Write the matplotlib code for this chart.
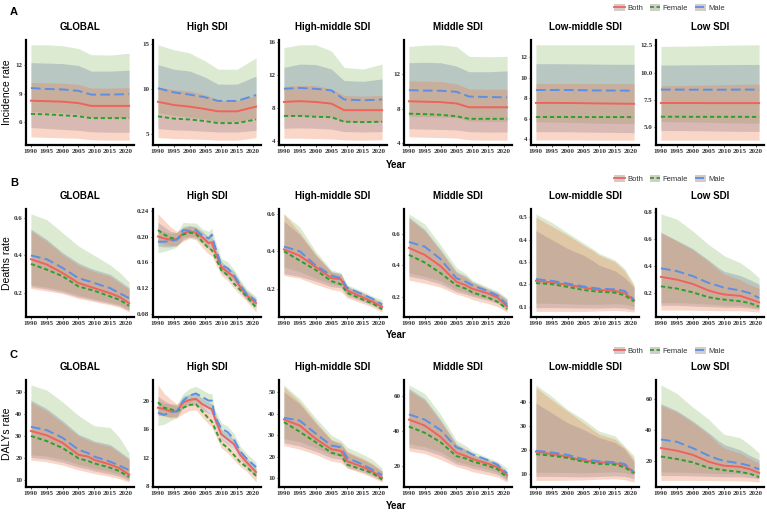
import matplotlib
matplotlib.use("Agg")
import matplotlib.pyplot as plt
from matplotlib.lines import Line2D
from matplotlib.patches import Patch

# ---- data: each sex -> (mean, lower, upper) ----
regions = ["GLOBAL", "High SDI", "High-middle SDI", "Middle SDI", "Low-middle SDI", "Low SDI"]
sexes = ["Both", "Female", "Male"]

years_a = [1990, 1995, 2000, 2005, 2009, 2015, 2021]
years_b = [1990, 1995, 2000, 2005, 2008, 2010, 2015, 2018, 2021]
years_hi = [1990, 1992, 1994, 1996, 1998, 2000, 2002, 2004, 2006, 2007, 2008, 2010, 2012, 2014, 2016, 2018, 2021]

# A: incidence
inc_global = {
    "Both": ([8.25, 8.2, 8.15, 8.0, 7.7, 7.7, 7.7], [5.4, 5.3, 5.2, 5.1, 4.95, 4.9, 4.9], [12.3, 12.25, 12.2, 12.0, 11.4, 11.4, 11.5]),
    "Female": ([6.85, 6.8, 6.7, 6.6, 6.4, 6.4, 6.4], [4.4, 4.35, 4.3, 4.25, 4.1, 4.05, 4.05], [10.2, 10.15, 10.1, 10.0, 9.6, 9.6, 9.65]),
    "Male": ([9.6, 9.5, 9.45, 9.3, 8.9, 8.9, 8.95], [7.1, 7.0, 6.95, 6.8, 6.5, 6.45, 6.45], [14.2, 14.2, 14.1, 13.8, 13.15, 13.1, 13.3]),
}
inc_high = {
    "Both": ([8.6, 8.25, 8.07, 7.8, 7.55, 7.55, 8.07], [5.65, 5.5, 5.45, 5.35, 5.27, 5.27, 5.45], [12.7, 12.2, 12.0, 11.3, 10.55, 10.55, 11.45]),
    "Female": ([7.0, 6.75, 6.65, 6.47, 6.25, 6.25, 6.65], [4.65, 4.55, 4.5, 4.45, 4.36, 4.36, 4.65], [10.25, 9.95, 9.8, 9.4, 8.75, 8.75, 9.3]),
    "Male": ([10.1, 9.65, 9.4, 9.1, 8.7, 8.7, 9.35], [7.4, 7.1, 6.9, 6.7, 6.4, 6.4, 6.85], [14.9, 14.35, 14.0, 13.1, 12.2, 12.2, 13.45]),
}
inc_highmid = {
    "Both": ([8.7, 8.8, 8.7, 8.5, 7.7, 7.7, 7.7], [5.5, 5.55, 5.5, 5.4, 5.1, 5.05, 5.1], [12.9, 13.3, 13.25, 12.7, 11.3, 11.2, 11.5]),
    "Female": ([7.0, 7.0, 6.9, 6.85, 6.3, 6.25, 6.3], [4.3, 4.3, 4.25, 4.2, 4.1, 4.05, 4.1], [10.6, 10.7, 10.7, 10.3, 9.5, 9.4, 9.5]),
    "Male": ([10.3, 10.4, 10.3, 10.1, 9.0, 8.9, 9.0], [7.0, 7.05, 7.0, 6.9, 6.3, 6.25, 6.3], [15.3, 15.65, 15.65, 14.9, 12.9, 12.7, 13.3]),
}
inc_mid = {
    "Both": ([8.85, 8.8, 8.75, 8.6, 8.15, 8.15, 8.15], [5.65, 5.6, 5.55, 5.5, 5.3, 5.25, 5.27], [13.35, 13.4, 13.35, 12.96, 12.3, 12.3, 12.4]),
    "Female": ([7.4, 7.35, 7.27, 7.1, 6.8, 6.8, 6.8], [4.7, 4.65, 4.6, 4.55, 4.35, 4.3, 4.3], [11.25, 11.2, 11.15, 10.9, 10.3, 10.25, 10.27]),
    "Male": ([10.15, 10.1, 10.08, 9.96, 9.4, 9.35, 9.3], [7.1, 7.05, 7.0, 6.95, 6.55, 6.5, 6.5], [15.25, 15.4, 15.45, 15.25, 14.1, 14.05, 14.1]),
}
inc_lowmid = {
    "Both": ([7.55, 7.55, 7.54, 7.52, 7.5, 7.48, 7.46], [4.75, 4.75, 4.74, 4.72, 4.7, 4.68, 4.65], [11.36, 11.36, 11.35, 11.34, 11.32, 11.3, 11.3]),
    "Female": ([6.18, 6.18, 6.18, 6.17, 6.17, 6.17, 6.17], [3.95, 3.95, 3.95, 3.94, 3.93, 3.92, 3.92], [9.44, 9.44, 9.44, 9.43, 9.42, 9.42, 9.42]),
    "Male": ([8.8, 8.8, 8.8, 8.78, 8.76, 8.75, 8.74], [5.7, 5.68, 5.66, 5.62, 5.58, 5.56, 5.55], [13.2, 13.2, 13.2, 13.2, 13.2, 13.2, 13.2]),
}
inc_low = {
    "Both": ([7.23, 7.23, 7.23, 7.22, 7.22, 7.22, 7.22], [4.73, 4.72, 4.71, 4.69, 4.67, 4.65, 4.64], [10.68, 10.69, 10.7, 10.71, 10.72, 10.73, 10.74]),
    "Female": ([5.98, 5.98, 5.97, 5.97, 5.97, 5.97, 5.96], [3.84, 3.84, 3.84, 3.84, 3.84, 3.84, 3.84], [8.8, 8.82, 8.84, 8.87, 8.9, 8.93, 8.96]),
    "Male": ([8.45, 8.45, 8.44, 8.44, 8.44, 8.45, 8.45], [5.54, 5.52, 5.5, 5.47, 5.44, 5.41, 5.39], [12.38, 12.4, 12.42, 12.45, 12.48, 12.51, 12.53]),
}

# B: deaths
death_global = {
    "Both": ([0.38, 0.352, 0.307, 0.254, 0.238, 0.227, 0.2, 0.18, 0.147], [0.235, 0.222, 0.205, 0.18, 0.17, 0.162, 0.145, 0.132, 0.108], [0.54, 0.485, 0.415, 0.36, 0.338, 0.325, 0.3, 0.265, 0.23]),
    "Female": ([0.355, 0.325, 0.29, 0.236, 0.222, 0.213, 0.183, 0.165, 0.133], [0.225, 0.212, 0.198, 0.172, 0.162, 0.155, 0.138, 0.125, 0.1], [0.53, 0.475, 0.405, 0.35, 0.328, 0.315, 0.29, 0.255, 0.22]),
    "Male": ([0.4, 0.38, 0.334, 0.28, 0.265, 0.254, 0.227, 0.2, 0.174], [0.245, 0.232, 0.215, 0.19, 0.178, 0.17, 0.152, 0.14, 0.115], [0.62, 0.59, 0.52, 0.45, 0.42, 0.4, 0.35, 0.31, 0.26]),
}
death_high = {
    "Both": ([0.2, 0.197, 0.195, 0.196, 0.205, 0.208, 0.206, 0.199, 0.19, 0.191, 0.177, 0.153, 0.145, 0.138, 0.122, 0.109, 0.097],
             [0.185, 0.184, 0.184, 0.186, 0.195, 0.199, 0.197, 0.19, 0.181, 0.182, 0.168, 0.145, 0.137, 0.13, 0.115, 0.102, 0.09],
             [0.222, 0.215, 0.208, 0.206, 0.215, 0.217, 0.215, 0.208, 0.199, 0.2, 0.186, 0.161, 0.153, 0.146, 0.129, 0.116, 0.104]),
    "Female": ([0.21, 0.203, 0.198, 0.196, 0.203, 0.206, 0.204, 0.192, 0.182, 0.179, 0.169, 0.148, 0.14, 0.127, 0.117, 0.107, 0.09],
               [0.19, 0.188, 0.186, 0.186, 0.193, 0.197, 0.195, 0.183, 0.173, 0.17, 0.16, 0.14, 0.132, 0.12, 0.11, 0.1, 0.083],
               [0.235, 0.225, 0.215, 0.208, 0.213, 0.216, 0.214, 0.202, 0.191, 0.188, 0.178, 0.157, 0.148, 0.135, 0.124, 0.114, 0.097]),
    "Male": ([0.192, 0.192, 0.193, 0.195, 0.21, 0.209, 0.21, 0.202, 0.197, 0.203, 0.185, 0.156, 0.151, 0.14, 0.125, 0.111, 0.1],
             [0.175, 0.177, 0.18, 0.184, 0.199, 0.2, 0.2, 0.193, 0.187, 0.193, 0.175, 0.147, 0.142, 0.132, 0.117, 0.104, 0.093],
             [0.212, 0.208, 0.205, 0.206, 0.222, 0.221, 0.221, 0.212, 0.208, 0.213, 0.195, 0.166, 0.161, 0.149, 0.133, 0.119, 0.107]),
}
death_highmid = {
    "Both": ([0.41, 0.376, 0.316, 0.256, 0.25, 0.19, 0.152, 0.13, 0.102], [0.28, 0.265, 0.24, 0.21, 0.205, 0.16, 0.13, 0.11, 0.085], [0.56, 0.49, 0.38, 0.29, 0.28, 0.21, 0.175, 0.15, 0.12]),
    "Female": ([0.4, 0.35, 0.3, 0.24, 0.223, 0.177, 0.14, 0.12, 0.089], [0.27, 0.255, 0.223, 0.195, 0.185, 0.15, 0.12, 0.1, 0.074], [0.6, 0.5, 0.385, 0.29, 0.275, 0.21, 0.175, 0.15, 0.125]),
    "Male": ([0.425, 0.4, 0.325, 0.27, 0.256, 0.205, 0.168, 0.145, 0.115], [0.316, 0.29, 0.255, 0.225, 0.215, 0.17, 0.14, 0.12, 0.095], [0.6, 0.53, 0.4, 0.3, 0.285, 0.22, 0.185, 0.16, 0.14]),
}
death_mid = {
    "Both": ([0.512, 0.467, 0.395, 0.295, 0.272, 0.25, 0.22, 0.193, 0.137], [0.33, 0.31, 0.28, 0.23, 0.215, 0.2, 0.175, 0.155, 0.11], [0.71, 0.63, 0.5, 0.36, 0.33, 0.295, 0.25, 0.225, 0.18]),
    "Female": ([0.467, 0.418, 0.35, 0.272, 0.25, 0.227, 0.193, 0.166, 0.12], [0.305, 0.285, 0.26, 0.215, 0.198, 0.18, 0.155, 0.135, 0.1], [0.7, 0.62, 0.49, 0.35, 0.322, 0.29, 0.245, 0.22, 0.175]),
    "Male": ([0.55, 0.52, 0.44, 0.317, 0.295, 0.272, 0.234, 0.205, 0.148], [0.35, 0.33, 0.3, 0.245, 0.228, 0.21, 0.185, 0.165, 0.12], [0.73, 0.665, 0.53, 0.385, 0.345, 0.305, 0.26, 0.235, 0.19]),
}
death_lowmid = {
    "Both": ([0.215, 0.208, 0.197, 0.185, 0.178, 0.174, 0.17, 0.16, 0.128], [0.095, 0.095, 0.094, 0.093, 0.093, 0.093, 0.095, 0.093, 0.085], [0.44, 0.4, 0.36, 0.33, 0.305, 0.285, 0.26, 0.23, 0.185]),
    "Female": ([0.205, 0.2, 0.188, 0.174, 0.169, 0.166, 0.162, 0.15, 0.123], [0.078, 0.078, 0.078, 0.078, 0.079, 0.08, 0.082, 0.08, 0.075], [0.5, 0.46, 0.42, 0.375, 0.35, 0.33, 0.3, 0.26, 0.19]),
    "Male": ([0.223, 0.215, 0.203, 0.19, 0.184, 0.18, 0.177, 0.17, 0.13], [0.115, 0.114, 0.112, 0.11, 0.11, 0.11, 0.112, 0.11, 0.1], [0.515, 0.477, 0.43, 0.385, 0.358, 0.338, 0.308, 0.27, 0.2]),
}
death_low = {
    "Both": ([0.32, 0.3, 0.268, 0.22, 0.2, 0.19, 0.18, 0.157, 0.132], [0.11, 0.11, 0.105, 0.1, 0.098, 0.095, 0.095, 0.09, 0.08], [0.65, 0.59, 0.53, 0.445, 0.39, 0.36, 0.33, 0.3, 0.265]),
    "Female": ([0.25, 0.234, 0.206, 0.17, 0.158, 0.152, 0.14, 0.127, 0.1], [0.075, 0.075, 0.074, 0.072, 0.07, 0.07, 0.07, 0.066, 0.06], [0.645, 0.585, 0.52, 0.435, 0.375, 0.34, 0.3, 0.265, 0.235]),
    "Male": ([0.383, 0.363, 0.326, 0.276, 0.255, 0.24, 0.22, 0.2, 0.164], [0.13, 0.13, 0.125, 0.12, 0.115, 0.11, 0.11, 0.1, 0.09], [0.785, 0.747, 0.66, 0.56, 0.51, 0.475, 0.425, 0.375, 0.313]),
}

# C: DALYs
daly_global = {
    "Both": ([32.3, 30.3, 26.9, 21.4, 20.6, 19.1, 17.0, 15.2, 12.3], [20.2, 19.5, 18.0, 15.8, 14.8, 14.0, 12.6, 11.5, 9.6], [46.4, 42.5, 37.0, 30.8, 29.0, 27.7, 26.1, 23.0, 19.8]),
    "Female": ([30.0, 27.7, 24.5, 19.8, 18.6, 17.5, 15.5, 13.9, 11.25], [19.0, 18.2, 16.7, 14.5, 13.5, 12.8, 11.5, 10.4, 8.9], [45.5, 41.5, 36.0, 30.0, 28.2, 27.0, 25.3, 22.2, 19.0]),
    "Male": ([34.2, 32.7, 29.2, 23.75, 22.2, 20.6, 18.3, 16.4, 14.4], [21.4, 20.8, 19.3, 17.0, 16.0, 15.2, 13.7, 12.5, 10.5], [53.4, 51.0, 45.6, 39.4, 36.5, 34.7, 33.9, 29.2, 22.2]),
}
daly_high = {
    "Both": ([19.0, 18.8, 18.5, 18.5, 19.75, 20.1, 20.25, 19.5, 19.0, 18.8, 17.5, 15.3, 14.6, 13.9, 12.4, 11.4, 10.0],
             [18.0, 17.9, 17.7, 17.8, 19.0, 19.3, 19.4, 18.7, 18.2, 18.0, 16.7, 14.6, 13.9, 13.2, 11.8, 10.8, 9.2],
             [20.6, 20.0, 19.5, 19.3, 20.6, 20.9, 21.0, 20.3, 19.8, 19.6, 18.3, 16.0, 15.3, 14.6, 13.0, 12.0, 10.6]),
    "Female": ([19.75, 19.0, 18.8, 18.5, 19.0, 19.4, 19.5, 18.5, 17.5, 17.1, 16.1, 14.1, 13.4, 12.4, 11.4, 10.7, 9.5],
               [18.0, 17.8, 17.6, 17.6, 18.2, 18.6, 18.7, 17.7, 16.7, 16.3, 15.3, 13.4, 12.7, 11.7, 10.8, 10.1, 8.6],
               [22.2, 21.0, 20.2, 19.5, 19.9, 20.3, 20.3, 19.3, 18.3, 17.9, 16.9, 14.8, 14.1, 13.1, 12.0, 11.3, 10.1]),
    "Male": ([18.3, 18.0, 18.4, 18.5, 20.0, 20.7, 21.0, 20.5, 20.0, 20.0, 17.8, 16.1, 15.6, 14.6, 12.9, 11.9, 10.7],
             [16.5, 16.7, 17.2, 17.6, 19.1, 19.8, 20.1, 19.6, 19.1, 19.1, 17.0, 15.3, 14.8, 13.9, 12.3, 11.3, 10.1],
             [20.0, 19.6, 19.6, 19.5, 21.0, 21.7, 22.0, 21.5, 21.0, 21.0, 18.7, 16.9, 16.4, 15.4, 13.6, 12.6, 11.4]),
}
daly_highmid = {
    "Both": ([37.3, 34.5, 28.4, 23.5, 22.7, 17.9, 15.2, 13.1, 10.2], [26.5, 25.0, 22.5, 19.5, 18.8, 15.0, 12.8, 11.0, 8.8], [50.2, 44.5, 35.6, 27.6, 26.0, 21.9, 18.7, 16.3, 13.1]),
    "Female": ([36.1, 31.6, 26.8, 21.9, 20.6, 16.3, 13.9, 12.3, 9.4], [25.2, 23.5, 21.1, 18.0, 17.2, 14.7, 12.2, 10.3, 8.2], [52.5, 45.5, 36.5, 28.0, 26.5, 22.5, 19.2, 16.8, 13.5]),
    "Male": ([38.1, 36.8, 30.8, 25.2, 24.4, 19.5, 16.3, 13.9, 11.5], [28.4, 27.0, 24.2, 21.0, 20.3, 16.5, 13.8, 12.0, 9.8], [53.4, 46.9, 38.1, 30.0, 27.6, 24.4, 21.1, 18.7, 14.7]),
}
daly_mid = {
    "Both": ([46.6, 43.2, 36.6, 27.6, 25.6, 24.0, 21.2, 19.2, 14.6], [30.5, 29.0, 26.0, 21.0, 19.8, 18.5, 16.5, 15.0, 11.5], [64.6, 58.6, 46.6, 32.6, 29.5, 26.6, 23.6, 21.5, 16.6]),
    "Female": ([42.6, 39.0, 33.6, 25.6, 24.2, 22.6, 20.0, 18.0, 13.2], [28.6, 27.0, 23.6, 19.5, 18.0, 16.6, 14.8, 13.5, 10.6], [63.5, 57.5, 45.5, 32.0, 29.0, 26.0, 23.0, 21.0, 16.2]),
    "Male": ([49.6, 46.6, 40.6, 30.6, 28.6, 26.6, 23.2, 20.6, 15.6], [32.6, 31.0, 28.0, 22.5, 21.2, 20.0, 18.0, 16.3, 12.5], [66.6, 61.6, 49.6, 34.6, 31.5, 28.6, 24.6, 22.6, 18.6]),
}
daly_lowmid = {
    "Both": ([19.3, 18.3, 17.2, 15.6, 15.2, 14.9, 14.5, 13.5, 10.7], [9.0, 9.0, 8.9, 8.8, 8.9, 9.0, 9.2, 9.0, 8.0], [39.6, 35.5, 31.4, 28.6, 26.5, 25.2, 23.1, 20.4, 14.9]),
    "Female": ([18.3, 17.6, 16.7, 15.1, 14.6, 14.2, 13.9, 12.8, 10.3], [7.3, 7.3, 7.4, 7.5, 7.7, 7.8, 8.0, 7.6, 6.6], [46.1, 41.0, 36.2, 31.4, 28.5, 26.6, 24.5, 21.0, 16.2]),
    "Male": ([19.7, 19.0, 18.0, 16.2, 15.7, 15.3, 14.9, 14.2, 10.7], [10.7, 10.7, 10.6, 10.5, 10.6, 10.7, 10.9, 10.6, 9.5], [47.2, 42.4, 36.9, 32.8, 29.8, 27.9, 25.9, 21.7, 17.6]),
}
daly_low = {
    "Both": ([28.6, 26.9, 24.3, 19.9, 18.2, 17.3, 16.6, 15.1, 12.7], [11.0, 11.0, 10.8, 10.5, 10.3, 10.2, 10.2, 9.8, 9.0], [57.0, 52.5, 46.0, 38.5, 33.5, 30.8, 27.5, 24.0, 21.0]),
    "Female": ([23.2, 21.6, 19.5, 16.0, 15.0, 14.4, 13.3, 12.2, 10.0], [7.9, 7.9, 7.9, 7.8, 7.7, 7.7, 7.6, 7.4, 6.8], [56.0, 51.6, 45.0, 37.4, 31.5, 28.6, 25.4, 22.0, 18.8]),
    "Male": ([34.1, 32.6, 28.6, 23.8, 21.5, 20.3, 18.8, 17.3, 15.1], [13.3, 13.2, 13.0, 12.6, 12.3, 12.2, 12.2, 11.8, 10.8], [69.0, 63.6, 54.9, 47.2, 41.0, 37.4, 35.2, 30.8, 25.4]),
}

rows = [
    ("A", "Incidence rate", [inc_global, inc_high, inc_highmid, inc_mid, inc_lowmid, inc_low],
     [years_a] * 6,
     [[6, 9, 12], [5, 10, 15], [4, 8, 12, 16], [4, 8, 12], [4, 6, 8, 10, 12], [5.0, 7.5, 10.0, 12.5]],
     [0, 0, 0, 0, 0, 1]),
    ("B", "Deaths rate", [death_global, death_high, death_highmid, death_mid, death_lowmid, death_low],
     [years_b, years_hi, years_b, years_b, years_b, years_b],
     [[0.2, 0.4, 0.6], [0.08, 0.12, 0.16, 0.20, 0.24], [0.2, 0.4, 0.6], [0.2, 0.4, 0.6], [0.1, 0.2, 0.3, 0.4, 0.5], [0.2, 0.4, 0.6, 0.8]],
     [1, 2, 1, 1, 1, 1]),
    ("C", "DALYs rate", [daly_global, daly_high, daly_highmid, daly_mid, daly_lowmid, daly_low],
     [years_b, years_hi, years_b, years_b, years_b, years_b],
     [[10, 20, 30, 40, 50], [8, 12, 16, 20], [10, 20, 30, 40, 50], [20, 40, 60], [10, 20, 30, 40], [20, 40, 60]],
     [0, 0, 0, 0, 0, 0]),
]

line_col = {"Both": "#F0625C", "Female": "#2CA02C", "Male": "#5B8FE3"}
line_dash = {"Both": None, "Female": (2.2, 1.4), "Male": (5, 2.2)}
fill_col = {"Male": "#8ABC69", "Both": "#6776A0", "Female": "#EE7A48"}

W, H = 767, 515
fig = plt.figure(figsize=(W / 100, H / 100), dpi=100)

col_left = [26, 153, 279, 404, 531, 656]
ax_w = 108
row_top = [40, 209, 380]
row_h = [105, 108, 107]
letter_y = [12, 183, 355]
year_y = [165, 335, 506]

xticks = [1990, 1995, 2000, 2005, 2010, 2015, 2020]
tick_font = dict(fontfamily="Liberation Serif", fontweight="bold", fontsize=5)

for r, (letter, ylab, panels, yrs_list, yticks_list, decs) in enumerate(rows):
    t, h = row_top[r], row_h[r]
    for c in range(6):
        ax = fig.add_axes([col_left[c] / W, 1 - (t + h) / H, ax_w / W, h / H])
        data = panels[c]
        yrs = yrs_list[c]
        for s in ["Male", "Both", "Female"]:
            m, lo, hi = data[s]
            ax.fill_between(yrs, lo, hi, color=fill_col[s], alpha=0.3, linewidth=0)
        for s in ["Both", "Female", "Male"]:
            m, lo, hi = data[s]
            ln, = ax.plot(yrs, m, color=line_col[s], lw=1.4)
            if line_dash[s]:
                ln.set_dashes(line_dash[s])
        vmin = min(min(data[s][1]) for s in sexes)
        vmax = max(max(data[s][2]) for s in sexes)
        pad = (vmax - vmin) * 0.05
        ax.set_ylim(vmin - pad, vmax + pad)
        ax.set_xlim(1990 - 1.55, 2021 + 1.55)
        ax.set_xticks(xticks, [str(x) for x in xticks], **tick_font)
        yt = yticks_list[c]
        ax.set_yticks(yt, [f"{v:.{decs[c]}f}" for v in yt], **tick_font)
        ax.tick_params(length=1.5, width=0.6, pad=1.2, colors="#333333")
        for sp in ["top", "right"]:
            ax.spines[sp].set_visible(False)
        for sp in ["left", "bottom"]:
            ax.spines[sp].set_linewidth(1.6)
            ax.spines[sp].set_color("black")
        ax.set_title(regions[c], fontfamily="Liberation Sans", fontweight="bold", fontsize=7, pad=7)

    fig.text(10 / W, 1 - letter_y[r] / H, letter, fontfamily="Liberation Sans", fontweight="bold",
             fontsize=8, ha="left", va="center")
    fig.text(7 / W, 1 - (t + h / 2) / H, ylab, fontfamily="Liberation Sans", fontsize=7.5,
             rotation=90, ha="center", va="center")
    fig.text(396 / W, 1 - year_y[r] / H, "Year", fontfamily="Liberation Sans", fontweight="bold",
             fontsize=7, ha="center", va="center")

    handles = []
    for s in sexes:
        ln = Line2D([], [], color=line_col[s], lw=1.3)
        if line_dash[s]:
            ln.set_dashes(line_dash[s])
        handles.append((Patch(facecolor="#D5CCC9", edgecolor="none"), ln))
    fig.legend(handles, sexes, loc="center left", bbox_to_anchor=(611 / W, 1 - (letter_y[r] - 4) / H),
               ncol=3, frameon=False, prop={"family": "Liberation Sans", "size": 5.5},
               handlelength=1.4, handleheight=1.1, handletextpad=0.3, columnspacing=0.9,
               labelcolor="#333333", borderaxespad=0)

fig.savefig("out.png", dpi=100)
